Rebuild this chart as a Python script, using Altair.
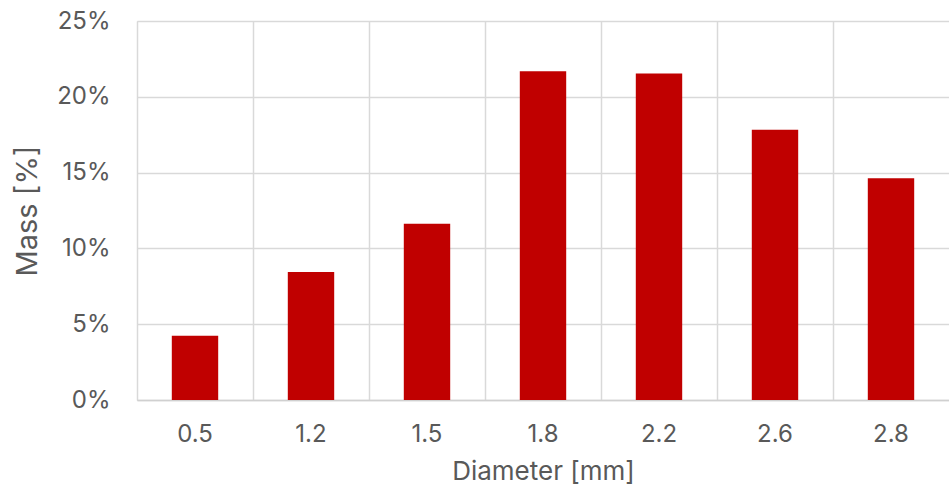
import altair as alt
import pandas as pd

diameters = ["0.5", "1.2", "1.5", "1.8", "2.2", "2.6", "2.8"]
mass = [4.23, 8.45, 11.62, 21.68, 21.53, 17.83, 14.62]

df = pd.DataFrame({"Diameter": diameters, "Mass": [m / 100 for m in mass]})

FONT = "Inter"
GRAY = "#595959"

chart = alt.Chart(df).mark_bar(color="#C00000", width=alt.RelativeBandSize(0.4)).encode(
    x=alt.X("Diameter:N", sort=diameters,
            scale=alt.Scale(paddingInner=0, paddingOuter=0),
            axis=alt.Axis(title="Diameter [mm]", labelAngle=0, labelFontSize=24,
                          titleFontSize=26, labelFont=FONT, titleFont=FONT,
                          labelColor=GRAY, titleColor=GRAY, titleFontWeight="normal",
                          labelOverlap=False,
                          ticks=False, domainColor="#d0d0d0", domainWidth=1.5,
                          grid=True, gridColor="#d9d9d9", gridWidth=1.5,
                          bandPosition=0, labelPadding=22, titlePadding=12)),
    y=alt.Y("Mass:Q", scale=alt.Scale(domain=[0, 0.25]),
            axis=alt.Axis(title="Mass [%]", format=".0%", values=[0, 0.05, 0.1, 0.15, 0.2, 0.25],
                          labelFontSize=24, titleFontSize=29, labelFont=FONT, titleFont=FONT,
                          labelColor=GRAY, titleColor=GRAY, titleFontWeight="normal",
                          labelOverlap=False,
                          ticks=False, domain=False, gridColor="#d9d9d9", gridWidth=1.5,
                          labelPadding=27, titlePadding=14)),
).properties(
    width=812, height=379,
    padding={"left": 137, "top": 21, "right": 0, "bottom": 91},
    autosize=alt.AutoSizeParams(type="none"),
).configure_view(stroke=None).configure(background="white")

chart.save("out.html", embed_options={"renderer": "svg", "actions": False})
